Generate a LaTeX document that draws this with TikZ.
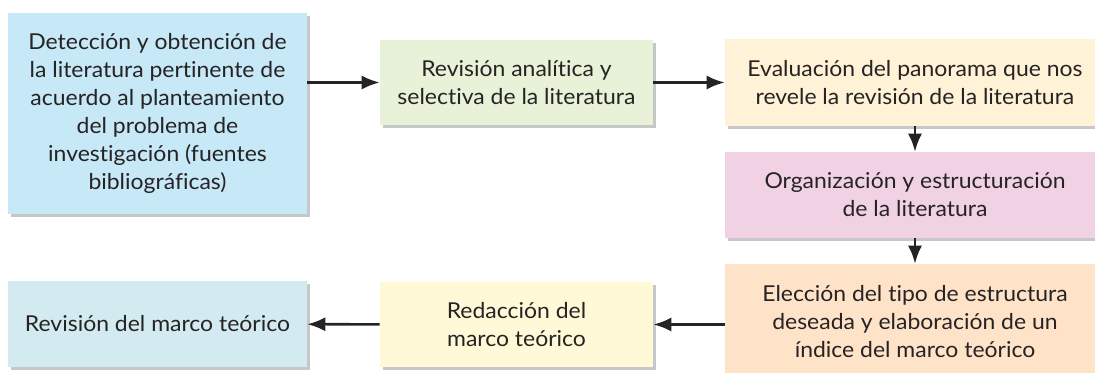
\documentclass[tikz,border=0pt]{standalone}
\usepackage{fontspec}
\setmainfont{Lato}[FakeStretch=1.05, Ligatures=NoCommon]
\usetikzlibrary{arrows.meta,shadows}

\definecolor{txtgray}{HTML}{262324}
\definecolor{cblue}{HTML}{C6E8F7}
\definecolor{cgreen}{HTML}{E8F2D8}
\definecolor{ccream}{HTML}{FFF2D6}
\definecolor{cpink}{HTML}{F1D2E4}
\definecolor{cpeach}{HTML}{FFE3C8}
\definecolor{cyellow}{HTML}{FFF9D8}
\definecolor{ccyan}{HTML}{D3EBF0}

\tikzset{
  etapa/.style={inner sep=0pt, align=center, text=txtgray,
    font=\fontsize{16.4}{21}\selectfont,
    drop shadow={shadow xshift=2pt, shadow yshift=-2.5pt, fill=black, opacity=0.22}},
  flecha/.style={line width=1.9pt, draw=txtgray, -{Latex[length=13.5pt,width=10.5pt]}}
}

\begin{document}
\begin{tikzpicture}[x=0.75pt, y=-0.75pt]

  % Cadre de la figure (1095 x 373)
  \useasboundingbox (0,0) rectangle (1095,373);
  \clip (0,0) rectangle (1095,373);

  % Largeurs des colonnes
  \def\wa{224.25pt}  % colonne gauche
  \def\wb{204.75pt}  % colonne centrale
  \def\wc{285pt}     % colonne droite

  % ==============================================
  % Ligne du haut
  % ==============================================
  \node[etapa, fill=cblue, minimum width=\wa, minimum height=150.75pt] (deteccion) at (157.5,113.5)
    {Detección y obtención de\\la literatura pertinente de\\acuerdo al planteamiento\\del problema de\\investigación (fuentes\\bibliográficas)};
  \node[etapa, fill=cgreen, minimum width=\wb, minimum height=63.75pt] (revision) at (516.5,82.5)
    {Revisión analítica y\\selectiva de la literatura};
  \node[etapa, fill=ccream, minimum width=\wc, minimum height=65.25pt] (evaluacion) at (915,82.5)
    {Evaluación del panorama que nos\\revele la revisión de la literatura};

  % ==============================================
  % Colonne de droite
  % ==============================================
  \node[etapa, fill=cpink, minimum width=\wc, minimum height=64.5pt] (organizacion) at (915,195)
    {Organización y estructuración\\de la literatura};
  \node[etapa, fill=cpeach, minimum width=\wc, minimum height=87pt] (eleccion) at (915,322)
    {Elección del tipo de estructura\\deseada y elaboración de un\\índice del marco teórico};

  % ==============================================
  % Ligne du bas
  % ==============================================
  \node[etapa, fill=cyellow, minimum width=\wb, minimum height=63.75pt] (redaccion) at (516.5,324.5)
    {Redacción del\\marco teórico};
  \node[etapa, fill=ccyan, minimum width=\wa, minimum height=64.5pt] (marco) at (157.5,324)
    {Revisión del marco teórico};

  % Flèches
  \draw[flecha] (deteccion.east |- revision.west) -- (revision.west);
  \draw[flecha] (revision) -- (evaluacion);
  \draw[flecha] (evaluacion) -- (organizacion);
  \draw[flecha] (organizacion) -- (eleccion);
  \draw[flecha] (eleccion.west |- redaccion.east) -- (redaccion.east);
  \draw[flecha] (redaccion) -- (marco);

\end{tikzpicture}
\end{document}
